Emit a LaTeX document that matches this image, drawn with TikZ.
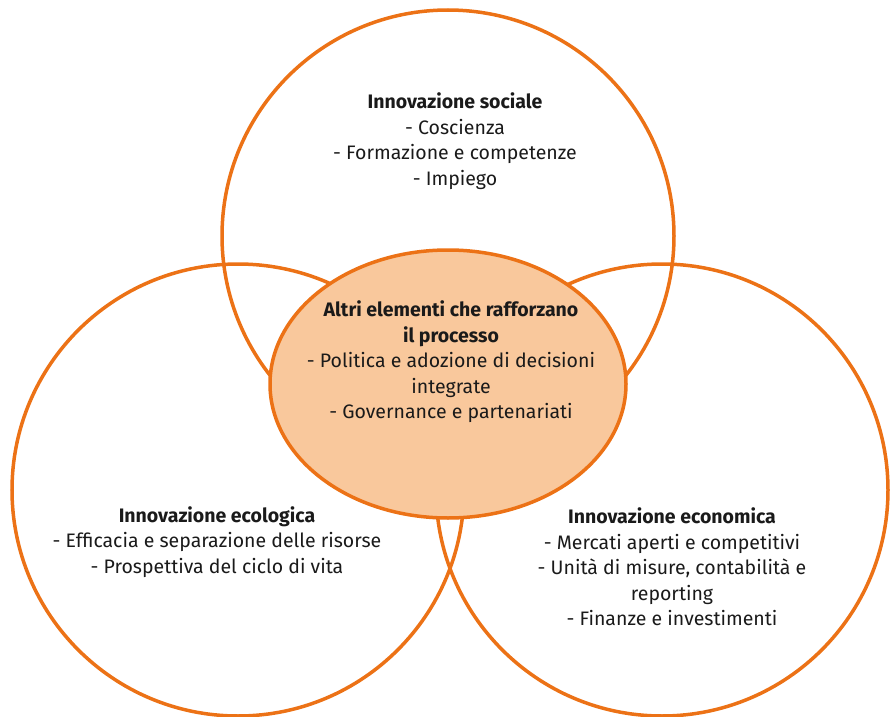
\documentclass[tikz,border=0pt]{standalone}
\usepackage{fontspec}
\setmainfont{Fira Sans}
\usetikzlibrary{shapes.geometric}
\definecolor{ring}{HTML}{EC7216}
\definecolor{core}{HTML}{F9C89C}
\definecolor{ink}{HTML}{1A1A1A}
\begin{document}
\begin{tikzpicture}[x=1pt,y=-1pt,
  ringc/.style={circle,draw=ring,line width=3.5pt,minimum size=452pt,inner sep=0pt},
  corec/.style={ellipse,draw=ring,fill=core,line width=3.5pt,minimum width=356pt,minimum height=268pt,inner sep=0pt},
  txt/.style={align=center,text=ink,font=\fontsize{19.5}{25.5}\selectfont}]
\useasboundingbox (0,0) rectangle (895,717);
\node[ringc] (soc) at (448,236) {};
\node[ringc] (eco) at (238,490) {};
\node[ringc] (econ) at (662,490) {};
\node[corec] (core) at (448,384) {};
\node[txt] (tsoc) at (455,141) {\textbf{Innovazione sociale}\\- Coscienza\\- Formazione e competenze\\- Impiego};
\node[txt] (tcore) at (451,362) {\textbf{Altri elementi che rafforzano}\\\textbf{il processo}\\- Politica e adozione di decisioni\\integrate\\- Governance e partenariati};
\node[txt] (teco) at (217,542) {\textbf{Innovazione ecologica}\\- Efficacia e separazione delle risorse\\- Prospettiva del ciclo di vita};
\node[txt] (tecon) at (672,567) {\textbf{Innovazione economica}\\- Mercati aperti e competitivi\\- Unità di misure, contabilità e\\reporting\\- Finanze e investimenti};
\end{tikzpicture}
\end{document}
